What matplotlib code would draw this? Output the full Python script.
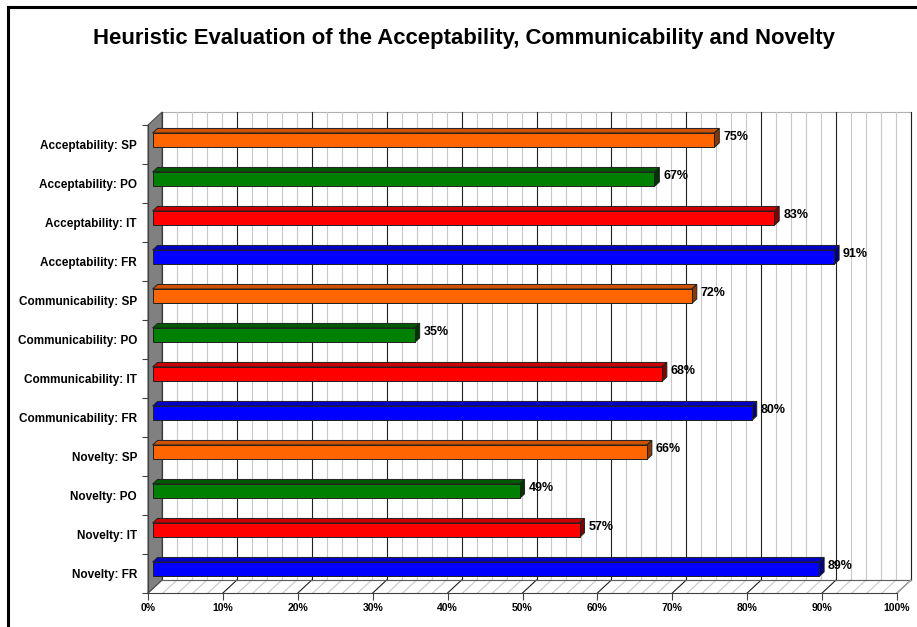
import numpy as np
import matplotlib
matplotlib.use('Agg')
import matplotlib.pyplot as plt
from matplotlib.patches import Polygon
from matplotlib.transforms import ScaledTranslation, IdentityTransform
from matplotlib.lines import Line2D

plt.rcParams['font.family'] = ['Liberation Sans', 'DejaVu Sans']

# data, top to bottom as in the chart
categories = ['Acceptability: SP', 'Acceptability: PO', 'Acceptability: IT', 'Acceptability: FR',
              'Communicability: SP', 'Communicability: PO', 'Communicability: IT', 'Communicability: FR',
              'Novelty: SP', 'Novelty: PO', 'Novelty: IT', 'Novelty: FR']
values = [75, 67, 83, 91, 72, 35, 68, 80, 66, 49, 57, 89]
group_colors = {'SP': '#FF6600', 'PO': '#008000', 'IT': '#FF0000', 'FR': '#0000FF'}
top_colors = {'SP': '#CC5200', 'PO': '#005A00', 'IT': '#C80000', 'FR': '#0000C8'}
side_colors = {'SP': '#8A3700', 'PO': '#003500', 'IT': '#800000', 'FR': '#000080'}
x_ticks = list(range(0, 101, 10))
title = 'Heuristic Evaluation of the Acceptability, Communicability and Novelty'

W, H = 917, 627
DX, DY = 14.0, 13.0          # depth of the 3d box in pixels
D_FRONT, D_BACK = 0.33, 0.68  # bar depth inside the box

fig = plt.figure(figsize=(W / 100, H / 100), dpi=100)
fig.patch.set_facecolor('white')
ax = fig.add_axes([148 / W, 1 - 593 / H, 749 / W, 468 / H])
n = len(categories)
ax.set_xlim(0, 100)
ax.set_ylim(n - 0.5, -0.5)
ax.patch.set_visible(False)
for s in ['top', 'right']:
    ax.spines[s].set_visible(False)
ax.spines['left'].set_color('#404040')
ax.spines['bottom'].set_color('#404040')
ax.spines['left'].set_zorder(4)


def shift(d):
    return ax.transData + ScaledTranslation(DX * d / 100, DY * d / 100, fig.dpi_scale_trans)


def disp(x, y, d=0.0):
    px, py = ax.transData.transform((x, y))
    return (px + DX * d, py + DY * d)


def poly(pts, **kw):
    p = Polygon(pts, closed=True, transform=IdentityTransform(), clip_on=False, **kw)
    ax.add_artist(p)
    p.set_clip_on(False)
    return p


def seg(a, b, **kw):
    ln = Line2D([a[0], b[0]], [a[1], b[1]], transform=IdentityTransform(), **kw)
    ax.add_artist(ln)
    ln.set_clip_on(False)


y0, y1 = n - 0.5, -0.5
# back wall
poly([disp(0, y0, 1), disp(100, y0, 1), disp(100, y1, 1), disp(0, y1, 1)],
     facecolor='white', edgecolor='#B0B0B0', lw=0.8, zorder=0)
for xv in np.arange(0, 101, 2):
    major = xv % 10 == 0
    col = '#202020' if major else '#C8C8C8'
    seg(disp(xv, y0, 1), disp(xv, y1, 1), color=col, lw=0.8, zorder=1)
    # floor lines
    seg(disp(xv, y0, 1), disp(xv, y0, 0), color=col, lw=0.8, zorder=1)
# floor edges
seg(disp(0, y0, 1), disp(100, y0, 1), color='#606060', lw=0.8, zorder=1)
seg(disp(100, y0, 1), disp(100, y0, 0), color='#B0B0B0', lw=0.8, zorder=1)

# left wall
poly([disp(0, y0, 0), disp(0, y0, 1), disp(0, y1, 1), disp(0, y1, 0)],
     facecolor='#808080', edgecolor='#505050', lw=0.8, zorder=2)

# bars
keys = [c.split(': ')[1] for c in categories]
ypos = np.arange(n)
bars = ax.barh(ypos, values, height=0.37, color=[group_colors[k] for k in keys],
               edgecolor='#202020', linewidth=0.7, transform=shift(D_FRONT), zorder=5)
for rect, k in zip(bars.patches, keys):
    x0, w = rect.get_x(), rect.get_width()
    yt = rect.get_y()  # upper edge on screen (inverted axis)
    yb = yt + rect.get_height()
    # top face
    poly([disp(x0, yt, D_FRONT), disp(x0 + w, yt, D_FRONT),
          disp(x0 + w, yt, D_BACK), disp(x0, yt, D_BACK)],
         facecolor=top_colors[k], edgecolor='#202020', lw=0.7, zorder=4)
    # end face
    poly([disp(x0 + w, yb, D_FRONT), disp(x0 + w, yt, D_FRONT),
          disp(x0 + w, yt, D_BACK), disp(x0 + w, yb, D_BACK)],
         facecolor=side_colors[k], edgecolor='#202020', lw=0.7, zorder=4)

for yv, v in zip(ypos, values):
    ax.annotate(f'{v}%', (v, yv), xytext=(9.7, 5.4), textcoords='offset points',
                ha='left', va='center', fontsize=9, fontweight='bold', zorder=6)

# ticks
ax.set_xticks(x_ticks)
ax.set_xticklabels([f'{t}%' for t in x_ticks], fontsize=7.5, fontweight='bold')
ax.tick_params(axis='x', length=5, width=0.8, color='#404040', pad=2)
ax.set_yticks(ypos)
ax.set_yticklabels(categories, fontsize=8.5, fontweight='bold')
ax.tick_params(axis='y', which='major', length=0, pad=8)
ax.set_yticks(np.arange(-0.5, n, 1.0), minor=True)
ax.tick_params(axis='y', which='minor', length=4, width=0.8, color='#404040', direction='out')

fig.text(464 / W, 1 - 44 / H, title, ha='center', va='baseline', fontsize=15.9, fontweight='bold')

# outer frame
fig.add_artist(Line2D([8 / W, 8 / W], [0, 1 - 7 / H], color='black', lw=2.2, transform=fig.transFigure))
fig.add_artist(Line2D([8 / W, 1], [1 - 7 / H, 1 - 7 / H], color='black', lw=2.2, transform=fig.transFigure))

fig.savefig('out.png', dpi=100)
